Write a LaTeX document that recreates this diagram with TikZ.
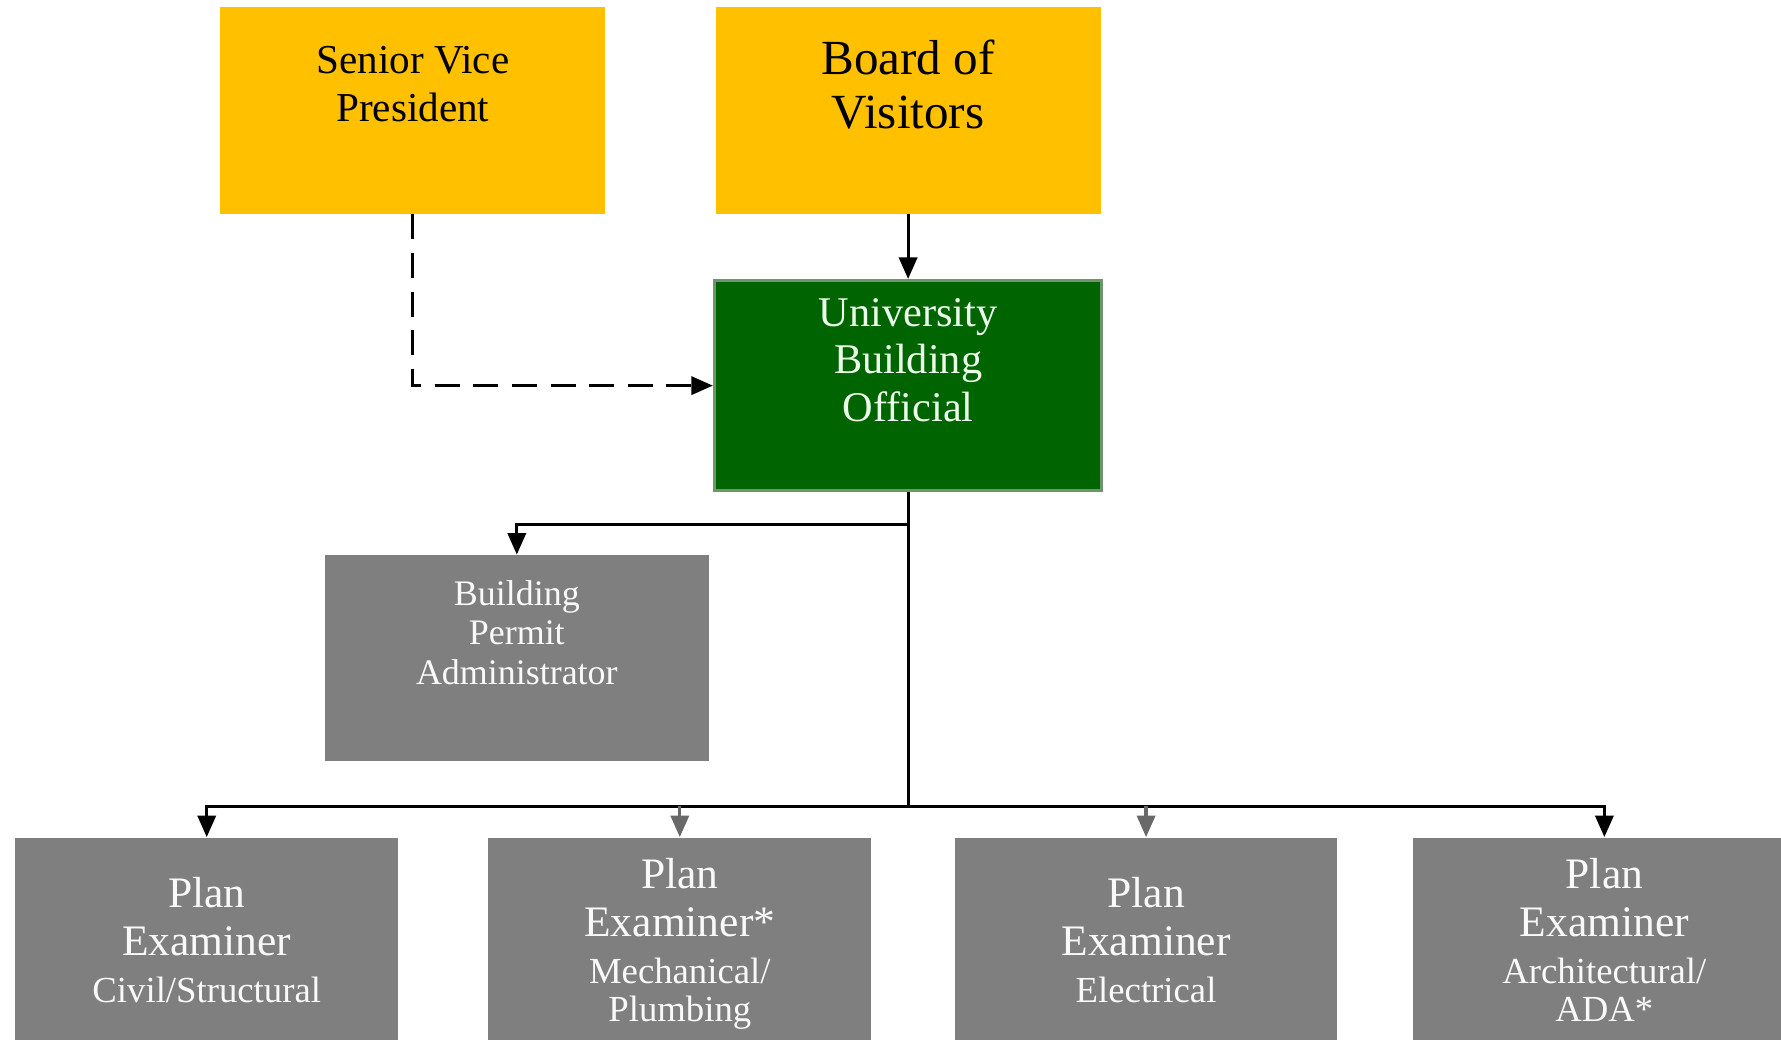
\documentclass[tikz,border=0pt]{standalone}
\usepackage{fontspec}
\setmainfont{Liberation Serif}
\usepackage{tikz}
\usetikzlibrary{arrows.meta}
\definecolor{boxgold}{RGB}{255,192,0}
\definecolor{boxgreen}{RGB}{0,100,0}
\definecolor{greenedge}{RGB}{110,150,110}
\definecolor{boxgray}{RGB}{127,127,127}
\definecolor{tipgray}{RGB}{105,105,105}
\newcommand{\fs}[2]{\fontsize{#1}{#2}\selectfont}
\newcommand{\trade}{\fs{9.2pt}{9.7pt}}
\tikzset{
  box/.style={rectangle, inner sep=0pt, align=center, text depth=0.46cm,
    minimum width=3.39cm, minimum height=1.82cm},
  gold/.style={box, fill=boxgold, text=black},
  official/.style={box, fill=boxgreen, draw=greenedge, line width=0.8pt,
    text=green!8!white, minimum width=3.41cm, minimum height=1.85cm},
  staff/.style={box, fill=boxgray, text=white!95!gray},
  examiner/.style={staff, anchor=north, minimum width=3.37cm, minimum height=2.26cm,
    font=\fs{10.9pt}{11.9pt}},
  arr/.style={line width=0.8pt, -{Triangle[length=1.9mm,width=1.6mm]}},
}
\begin{document}
\begin{tikzpicture}
\useasboundingbox (0,0) rectangle (15.68,-9.15);
\clip (0,0) rectangle (15.68,-9.15);

\node[gold, font=\fs{10.3pt}{11.9pt}] (svp) at (3.635,-0.97) {Senior Vice\\President};
\node[gold, font=\fs{12.3pt}{13.6pt}] (bov) at (7.995,-0.97) {Board of\\Visitors};
\node[official, font=\fs{10.6pt}{11.9pt}] (ubo) at (7.995,-3.395) {University\\Building\\Official};
\node[staff, minimum width=3.38cm, minimum height=1.81cm, font=\fs{9pt}{9.9pt}] (bpa) at (4.55,-5.795)
  {Building\\Permit\\Administrator};

\node[examiner] (pec) at (1.82,-7.37) {Plan\\Examiner\\\trade Civil/Structural};
\node[examiner] (pem) at (5.985,-7.37) {Plan\\Examiner*\\\trade Mechanical/\\[-2.5pt]\trade Plumbing};
\node[examiner] (pee) at (10.09,-7.37) {Plan\\Examiner\\\trade Electrical};
\node[examiner] (pea) at (14.125,-7.37) {Plan\\Examiner\\\trade Architectural/\\[-2.5pt]\trade ADA*};

\coordinate (tap) at (7.995,-4.62);
\coordinate (bus) at (7.995,-7.10);

\draw[arr] (bov) -- (ubo);
\draw[arr, dash pattern=on 2.2mm off 1.2mm] (svp.south) |- (ubo.west);
\draw[line width=0.8pt] (ubo.south) -- (bus);
\draw[arr] (tap) -| (bpa.north);
\draw[arr] (bus) -| (pec.north);
\draw[arr] (bus) -| (pea.north);
\draw[arr, tipgray] (pem.north |- bus) -- (pem.north);
\draw[arr, tipgray] (pee.north |- bus) -- (pee.north);
\end{tikzpicture}
\end{document}
